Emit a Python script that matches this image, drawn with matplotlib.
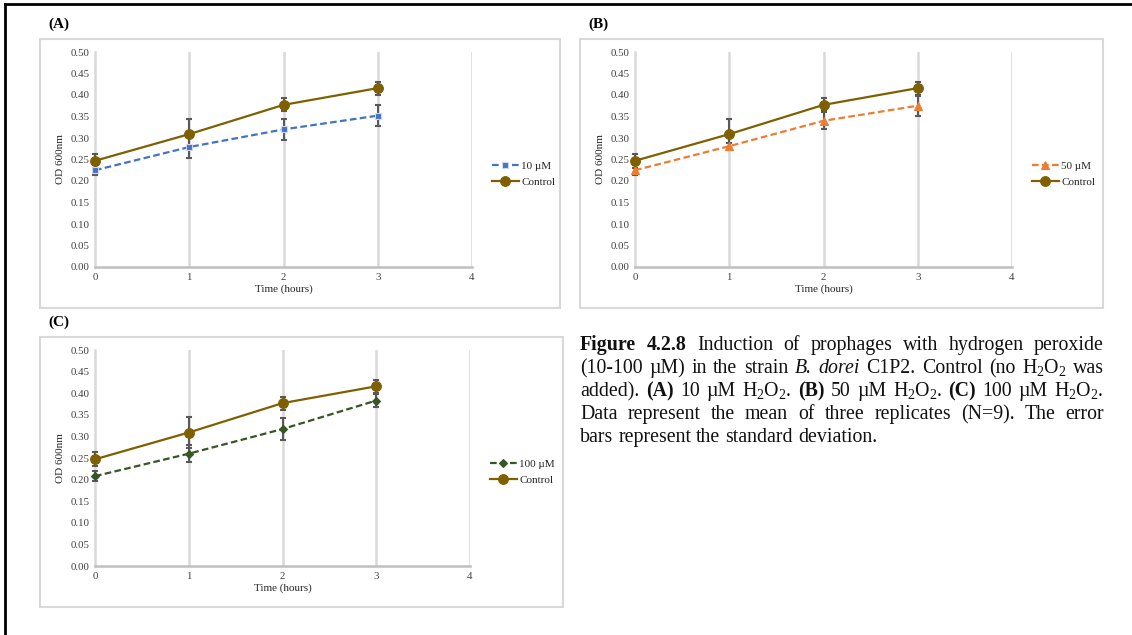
import numpy as np
import matplotlib
matplotlib.use("Agg")
import matplotlib.pyplot as plt
from matplotlib.patches import Rectangle
from matplotlib.lines import Line2D

plt.rcParams['font.family'] = ['Liberation Serif', 'DejaVu Serif']
plt.rcParams['mathtext.fontset'] = 'custom'
plt.rcParams['mathtext.rm'] = 'Liberation Serif'
plt.rcParams['mathtext.it'] = 'Liberation Serif:italic'
plt.rcParams['mathtext.bf'] = 'Liberation Serif:bold'

# Datos
hours = [0, 1, 2, 3]
control = [0.247, 0.309, 0.377, 0.416]
control_sd = [0.016, 0.036, 0.015, 0.015]
h2o2_10 = [0.225, 0.279, 0.320, 0.352]
h2o2_10_sd = [0.012, 0.026, 0.025, 0.025]
h2o2_50 = [0.225, 0.281, 0.340, 0.375]
h2o2_50_sd = [0.012, 0.008, 0.020, 0.023]
h2o2_100 = [0.208, 0.260, 0.317, 0.383]
h2o2_100_sd = [0.012, 0.020, 0.025, 0.015]

W, H = 1132, 635
fig = plt.figure(figsize=(W / 100, H / 100), dpi=100)

def fx(px):
    return px / W

def fy(py):
    return 1 - py / H

# borde de la pagina
fig.add_artist(Line2D([fx(5), 1], [fy(4), fy(4)], color='black', lw=2))
fig.add_artist(Line2D([fx(5), fx(5)], [fy(4), 0], color='black', lw=2))

GRID = '#D9D9D9'
ERR = '#595959'
CTRL = '#7F6000'


def panel(box, plot, letter, series, legend_y):
    # caja del grafico
    x0, y0, x1, y1 = box
    fig.add_artist(Rectangle((fx(x0), fy(y1)), fx(x1 - x0), (y1 - y0) / H,
                             fill=False, edgecolor=GRID, lw=1.5, zorder=0))
    fig.text(fx(x0 + 8), fy(y0 - 15), letter, fontsize=11, weight='bold',
             va='center', ha='left')
    px0, py0, px1, py1 = plot
    ax = fig.add_axes([fx(px0), fy(py1), fx(px1 - px0), (py1 - py0) / H])
    ax.patch.set_alpha(0)
    ax.set_xlim(0, 4)
    ax.set_ylim(0, 0.5)
    ax.set_xticks([0, 1, 2, 3, 4])
    ax.set_yticks(np.arange(0, 0.51, 0.05))
    ax.set_yticklabels(['%.2f' % v for v in np.arange(0, 0.51, 0.05)])
    for s in ['top', 'right']:
        ax.spines[s].set_visible(False)
    ax.spines['left'].set_color(GRID)
    ax.spines['left'].set_linewidth(1.8)
    ax.spines['bottom'].set_color('#BFBFBF')
    ax.spines['bottom'].set_linewidth(1.8)
    for xv in [1, 2, 3, 4]:
        ax.axvline(xv, color=GRID, lw=1.8, zorder=0)
    ax.tick_params(length=0, labelsize=7.8, colors='#404040', pad=4)
    ax.set_xlabel('Time (hours)', fontsize=8, color='#262626', labelpad=2)
    ax.set_ylabel('OD 600nm', fontsize=8, color='#262626', labelpad=4)

    handles = []
    for vals, sd, label, color, ls, marker, ms, mec in series:
        ax.errorbar(hours, vals, yerr=sd, fmt='none', ecolor=ERR, elinewidth=1.5,
                    capsize=2.2, capthick=1.5, zorder=3, clip_on=False)
        ln, = ax.plot(hours, vals, color=color, ls=ls, lw=1.6, marker=marker,
                      ms=ms, mfc=color, mec=mec, mew=0.8, zorder=4, clip_on=False,
                      label=label)
        if ls == '--':
            ln.set_dashes((3, 1.5))
        handles.append(ln)
    leg = ax.legend(handles=handles, loc='center left', frameon=False,
                    bbox_to_anchor=(fx(px1 + 20), fy(legend_y)),
                    bbox_transform=fig.transFigure, fontsize=8, borderpad=0,
                    borderaxespad=0, handlelength=2.4, handletextpad=0.25,
                    labelspacing=0.6)
    for t in leg.get_texts():
        t.set_color('#262626')
    return ax


ctrl = (control, control_sd, 'Control', CTRL, '-', 'o', 7, CTRL)

panel((40, 39, 560, 308), (95, 52, 472, 267), '(A)',
      [(h2o2_10, h2o2_10_sd, '10 µM', '#4472C4', '--', 's', 4.5, '#D0D8E8'), ctrl], 174)
panel((580, 39, 1103, 308), (635, 52, 1012, 267), '(B)',
      [(h2o2_50, h2o2_50_sd, '50 µM', '#ED7D31', '--', '^', 6, '#ED7D31'), ctrl], 174)
panel((40, 337, 563, 607), (95, 350, 470, 566), '(C)',
      [(h2o2_100, h2o2_100_sd, '100 µM', '#375623', '--', 'D', 4.5, '#375623'), ctrl], 472)

# Pie de figura, justificado
N, B, I = 'normal', 'bold', 'italic'
caption = [
    [('Figure', B), ('4.2.8', B), ('Induction', N), ('of', N), ('prophages', N),
     ('with', N), ('hydrogen', N), ('peroxide', N)],
    [('(10-100', N), ('µM)', N), ('in', N), ('the', N), ('strain', N), ('B.', I),
     ('dorei', I), ('C1P2.', N), ('Control', N), ('(no', N), ('H$_2$O$_2$', N), ('was', N)],
    [('added).', N), ('(A)', B), ('10', N), ('µM', N), ('H$_2$O$_2$.', N), ('(B)', B),
     ('50', N), ('µM', N), ('H$_2$O$_2$.', N), ('(C)', B), ('100', N), ('µM', N),
     ('H$_2$O$_2$.', N)],
    [('Data', N), ('represent', N), ('the', N), ('mean', N), ('of', N), ('three', N),
     ('replicates', N), ('(N=9).', N), ('The', N), ('error', N)],
    [('bars', N), ('represent', N), ('the', N), ('standard', N), ('deviation.', N)],
]
cap_x0, cap_x1 = 580, 1104
cap_y, cap_dy = 350, 23
cap_size = 14.3
renderer = fig.canvas.get_renderer()
for i, words in enumerate(caption):
    y = fy(cap_y + i * cap_dy)
    texts = []
    for w, st in words:
        kw = {'weight': 'bold'} if st == B else ({'style': 'italic'} if st == I else {})
        texts.append(fig.text(0, y, w, fontsize=cap_size, va='baseline', ha='left',
                              color='#111111', **kw))
    widths = [t.get_window_extent(renderer).width for t in texts]
    if i < len(caption) - 1:
        gap = (cap_x1 - cap_x0 - sum(widths)) / (len(texts) - 1)
    else:
        gap = 5
    xpos = cap_x0
    for t, wd in zip(texts, widths):
        t.set_x(fx(xpos))
        xpos += wd + gap

fig.savefig('out.png', dpi=100)
